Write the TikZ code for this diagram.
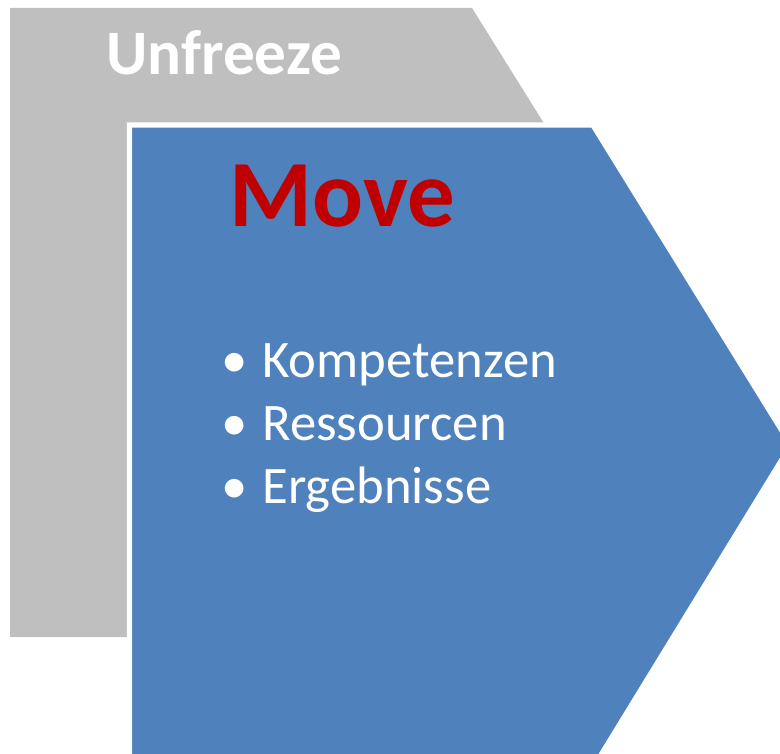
\documentclass[tikz,border=0pt]{standalone}
\usepackage{fontspec}
\usepackage{xcolor}
\setmainfont{Carlito}
\definecolor{grau}{RGB}{191,191,191}
\definecolor{blau}{RGB}{79,129,189}
\definecolor{rot}{RGB}{192,0,0}
\tikzset{
  titel/.style={anchor=base west, inner sep=0pt, font=\bfseries\fontsize{36}{40}\selectfont},
  punkt/.style={anchor=base west, inner sep=0pt, text=white, font=\fontsize{30}{34}\selectfont},
  kugel/.style={anchor=base, inner sep=0pt, text=white, font=\fontsize{30}{34}\selectfont}
}
\begin{document}
\begin{tikzpicture}[x=0.02cm,y=-0.02cm]
        \useasboundingbox (0,0) rectangle (780,753);
        \clip (0,0) rectangle (780,753);
        % Unfreeze (hinten)
        \fill[grau] (10,8)--(472,8)--(668,322)--(474,637)--(10,637)--cycle;
        \node[titel, text=white] (unfreeze) at (106,75) {Unfreeze};
        % Move (vorne)
        \filldraw[fill=blau, draw=white, line width=3.1pt, line join=miter]
        (129.5,125)--(593,125)--(791,445)--(595,765)--(129.5,765)--cycle;
        \node[titel, text=rot, font=\bfseries\fontsize{54}{60}\selectfont] (move) at (229,226) {Move};
        % Punkte
        \node[kugel] (b1) at (235,377) {•};
        \node[punkt] (komp) at (262,377) {Kompetenzen};
        \node[kugel] (b2) at (235,440) {•};
        \node[punkt] (ress) at (262,440) {Ressourcen};
        \node[kugel] (b3) at (235,503) {•};
        \node[punkt] (erg) at (262,503) {Ergebnisse};
    \end{tikzpicture}
\end{document}
